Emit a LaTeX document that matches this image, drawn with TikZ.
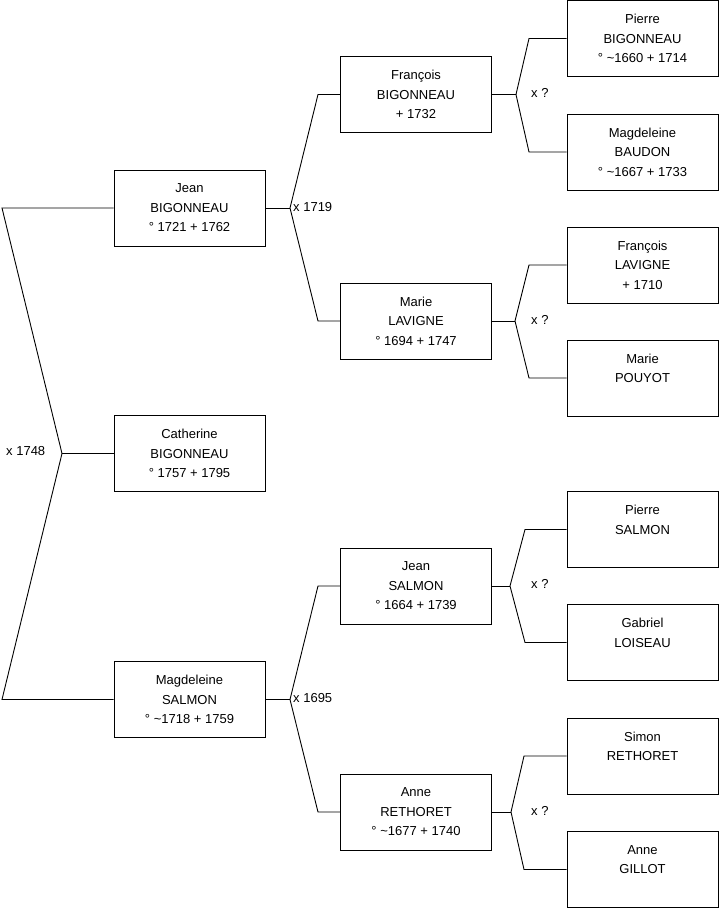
\documentclass[tikz,border=0pt]{standalone}
\usepackage{fontspec}
\setmainfont{Liberation Sans}
\begin{document}
\begin{tikzpicture}[x=1pt,y=-1pt,
  person/.style={draw=black, line width=0.9pt, minimum width=151pt, minimum height=76pt,
    inner sep=0pt, align=center, font=\fontsize{13}{19.5}\selectfont, fill=white},
  link/.style={draw=black, line width=0.9pt},
  lbl/.style={font=\fontsize{13}{15}\selectfont, inner sep=0pt, anchor=west}]
\useasboundingbox (0,0) rectangle (719,908);
% column 1
\node[person] (jeanB) at (189.5,208) {Jean\\BIGONNEAU\\° 1721 + 1762};
\node[person] (cath) at (189.5,453.5) {Catherine\\BIGONNEAU\\° 1757 + 1795};
\node[person] (magS) at (189.5,699.5) {Magdeleine\\SALMON\\° \textasciitilde1718 + 1759};
% column 2
\node[person] (franB) at (416,94.5) {François\\BIGONNEAU\\+ 1732};
\node[person] (marieL) at (416,321) {Marie\\LAVIGNE\\° 1694 + 1747};
\node[person] (jeanS) at (416,586) {Jean\\SALMON\\° 1664 + 1739};
\node[person] (anneR) at (416,812) {Anne\\RETHORET\\° \textasciitilde1677 + 1740};
% column 3
\node[person] (pierreB) at (642.5,38.5) {Pierre\\BIGONNEAU\\° \textasciitilde1660 + 1714};
\node[person] (magB) at (642.5,152) {Magdeleine\\BAUDON\\° \textasciitilde1667 + 1733};
\node[person] (franL) at (642.5,265) {François\\LAVIGNE\\+ 1710};
\node[person] (marieP) at (642.5,378) {Marie\\POUYOT\\~};
\node[person] (pierreS) at (642.5,529.5) {Pierre\\SALMON\\~};
\node[person] (gabL) at (642.5,642.5) {Gabriel\\LOISEAU\\~};
\node[person] (simonR) at (642.5,756) {Simon\\RETHORET\\~};
\node[person] (anneG) at (642.5,869.5) {Anne\\GILLOT\\~};
% level 1 bracket
\coordinate (a1) at (62,453.5);
\coordinate (a1u) at (2,208);
\coordinate (a1d) at (2,699.5);
\draw[link] (jeanB.west) -- (a1u) -- (a1) -- (a1d) -- (magS.west);
\draw[link] (a1) -- (cath.west);
\node[lbl] (l1) at (6,451) {x 1748};
% level 2 brackets
\coordinate (a2) at (290,208);
\coordinate (a2u) at (318,94.5);
\coordinate (a2d) at (318,321);
\draw[link] (franB.west) -- (a2u) -- (a2) -- (a2d) -- (marieL.west);
\draw[link] (jeanB.east) -- (a2);
\node[lbl] (l2) at (293,207) {x 1719};
\coordinate (b2) at (290,699.5);
\coordinate (b2u) at (318,586);
\coordinate (b2d) at (318,812);
\draw[link] (jeanS.west) -- (b2u) -- (b2) -- (b2d) -- (anneR.west);
\draw[link] (magS.east) -- (b2);
\node[lbl] (l3) at (293,698) {x 1695};
% level 3 brackets
\coordinate (c1) at (516,94.5);
\coordinate (c1u) at (529,38.5);
\coordinate (c1d) at (529,152);
\draw[link] (pierreB.west) -- (c1u) -- (c1) -- (c1d) -- (magB.west);
\draw[link] (franB.east) -- (c1);
\node[lbl] (l4) at (531,93) {x ?};
\coordinate (c2) at (515,321);
\coordinate (c2u) at (529,265);
\coordinate (c2d) at (529,378);
\draw[link] (franL.west) -- (c2u) -- (c2) -- (c2d) -- (marieP.west);
\draw[link] (marieL.east) -- (c2);
\node[lbl] (l5) at (531,320) {x ?};
\coordinate (c3) at (510,586);
\coordinate (c3u) at (525,529.5);
\coordinate (c3d) at (525,642.5);
\draw[link] (pierreS.west) -- (c3u) -- (c3) -- (c3d) -- (gabL.west);
\draw[link] (jeanS.east) -- (c3);
\node[lbl] (l6) at (531,584) {x ?};
\coordinate (c4) at (511,812);
\coordinate (c4u) at (524,756);
\coordinate (c4d) at (524,869.5);
\draw[link] (simonR.west) -- (c4u) -- (c4) -- (c4d) -- (anneG.west);
\draw[link] (anneR.east) -- (c4);
\node[lbl] (l7) at (531,811) {x ?};
\end{tikzpicture}
\end{document}
